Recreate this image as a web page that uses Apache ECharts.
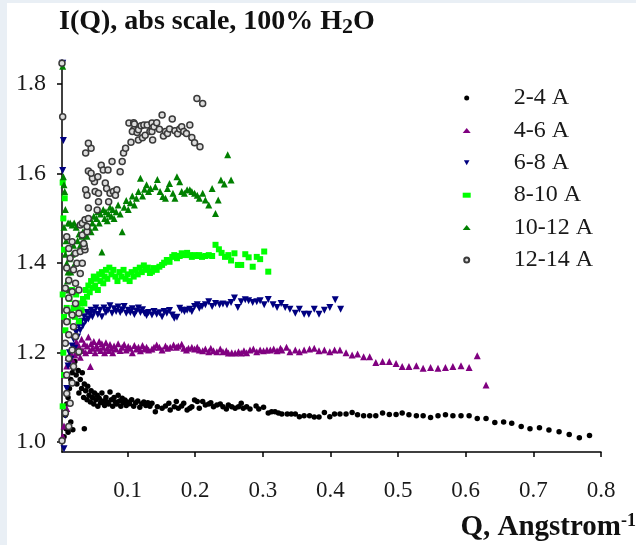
<!DOCTYPE html>
<html>
<head>
<meta charset="utf-8">
<style>
  html, body { margin: 0; padding: 0; background: #fff; }
  #chart { width: 636px; height: 545px; }
</style>
<script src="https://cdn.jsdelivr.net/npm/echarts@6/dist/echarts.min.js"></script>
</head>
<body>
<div id="chart"></div>
<script>
// series names (legend order)
var seriesNames = ['2-4 A', '4-6 A', '6-8 A', '8-10 A', '10-12 A', '12-14 A'];

// [Q, I(Q)]
var pts2to4 = [
  [0.004,1.005],[0.006,1.012],[0.009,1.030],[0.012,1.022],[0.016,1.045],[0.019,1.028],[0.036,1.030],
  [0.008,1.060],[0.010,1.085],[0.012,1.100],[0.014,1.120],[0.016,1.140],[0.018,1.155],[0.020,1.165],
  [0.022,1.180],[0.024,1.150],[0.025,1.130],[0.027,1.160],[0.028,1.110],[0.030,1.140],[0.032,1.120],
  [0.033,1.155],[0.035,1.100],[0.036,1.130],[0.038,1.115],[0.040,1.095],[0.041,1.125],[0.043,1.105],
  [0.045,1.090],[0.046,1.115],[0.048,1.100],[0.050,1.085],[0.051,1.110],[0.053,1.095],[0.055,1.105],
  [0.056,1.080],[0.058,1.098],[0.060,1.088],[0.062,1.110],[0.064,1.092],[0.066,1.082],[0.068,1.100],
  [0.070,1.090],[0.072,1.085],[0.074,1.112],[0.076,1.095],[0.078,1.080],[0.080,1.100],[0.082,1.090],
  [0.084,1.085],[0.086,1.105],[0.088,1.092],[0.090,1.080],[0.092,1.098],[0.094,1.088],[0.096,1.094],
  [0.098,1.082],[0.100,1.090],[0.103,1.086],[0.106,1.095],[0.109,1.080],[0.112,1.088],[0.115,1.092],
  [0.118,1.078],[0.121,1.086],[0.124,1.090],[0.127,1.082],[0.130,1.088],[0.133,1.080],
  [0.136,1.087],[0.141,1.068],[0.144,1.079],[0.151,1.076],[0.156,1.081],[0.161,1.087],[0.163,1.072],
  [0.169,1.079],[0.172,1.091],[0.175,1.076],[0.180,1.081],[0.183,1.087],[0.188,1.072],[0.192,1.076],
  [0.195,1.079],[0.199,1.094],[0.203,1.091],[0.206,1.076],[0.211,1.091],[0.215,1.083],[0.220,1.085],
  [0.223,1.088],[0.227,1.079],[0.232,1.083],[0.237,1.085],[0.241,1.079],[0.246,1.074],[0.249,1.083],
  [0.254,1.079],[0.259,1.076],[0.264,1.079],[0.268,1.087],[0.271,1.076],[0.276,1.079],[0.281,1.074],
  [0.290,1.081],[0.294,1.074],[0.301,1.078],[0.308,1.065],[0.313,1.068],[0.318,1.068],[0.323,1.065],
  [0.328,1.063],[0.336,1.063],[0.342,1.063],[0.348,1.063],[0.354,1.057],[0.361,1.059],[0.369,1.059],
  [0.376,1.056],[0.383,1.056],[0.391,1.066],[0.399,1.057],[0.406,1.063],[0.414,1.063],[0.423,1.063],
  [0.432,1.066],[0.440,1.061],[0.449,1.059],[0.458,1.059],[0.467,1.059],[0.477,1.065],[0.487,1.062],
  [0.497,1.062],[0.506,1.065],[0.516,1.061],[0.527,1.059],[0.537,1.059],[0.548,1.055],[0.559,1.059],
  [0.570,1.061],[0.581,1.059],[0.593,1.059],[0.605,1.059],[0.617,1.053],[0.630,1.053],[0.643,1.044],
  [0.656,1.045],[0.668,1.042],[0.682,1.035],[0.695,1.030],[0.709,1.032],[0.723,1.027],[0.738,1.023],
  [0.753,1.017],[0.768,1.010],[0.783,1.015]
];

var pts4to6 = [
  [0.004,1.013],[0.006,1.036],[0.010,1.075],[0.008,1.150],[0.010,1.170],[0.012,1.190],[0.014,1.175],
  [0.016,1.200],[0.018,1.185],[0.020,1.210],[0.022,1.195],[0.024,1.225],[0.026,1.200],[0.028,1.215],
  [0.030,1.190],[0.032,1.230],[0.034,1.205],[0.036,1.220],[0.038,1.200],[0.040,1.215],[0.042,1.235],
  [0.044,1.205],[0.045,1.169],[0.046,1.220],[0.048,1.210],[0.050,1.225],[0.052,1.200],[0.054,1.215],
  [0.056,1.210],[0.058,1.225],[0.060,1.205],[0.062,1.220],[0.064,1.212],[0.066,1.200],[0.068,1.222],
  [0.070,1.210],[0.072,1.205],[0.074,1.218],[0.076,1.210],[0.078,1.200],[0.080,1.215],[0.083,1.208],
  [0.086,1.220],[0.089,1.205],[0.092,1.212],[0.095,1.218],[0.098,1.206],[0.101,1.214],[0.104,1.210],
  [0.107,1.200],[0.110,1.216],[0.113,1.208],[0.116,1.212],[0.119,1.204],[0.122,1.216],[0.125,1.208],
  [0.128,1.212],[0.131,1.206],
  [0.136,1.208],[0.139,1.212],[0.143,1.217],[0.147,1.212],[0.151,1.206],[0.156,1.215],[0.159,1.210],
  [0.163,1.212],[0.168,1.217],[0.172,1.212],[0.175,1.215],[0.180,1.219],[0.183,1.210],[0.187,1.206],
  [0.190,1.210],[0.195,1.212],[0.199,1.208],[0.203,1.212],[0.206,1.206],[0.211,1.204],[0.215,1.208],
  [0.220,1.202],[0.223,1.210],[0.227,1.204],[0.232,1.202],[0.237,1.208],[0.241,1.202],[0.246,1.204],
  [0.249,1.199],[0.254,1.200],[0.259,1.199],[0.264,1.202],[0.268,1.199],[0.272,1.204],[0.276,1.200],
  [0.281,1.206],[0.286,1.208],[0.291,1.202],[0.296,1.206],[0.301,1.204],[0.306,1.206],[0.311,1.206],
  [0.316,1.208],[0.321,1.204],[0.326,1.210],
  [0.328,1.206],[0.335,1.212],[0.340,1.202],[0.348,1.206],[0.354,1.202],[0.361,1.206],[0.369,1.208],
  [0.376,1.210],[0.383,1.204],[0.391,1.206],[0.399,1.202],[0.406,1.206],[0.414,1.206],[0.423,1.200],
  [0.432,1.195],[0.440,1.197],[0.449,1.191],[0.458,1.191],[0.467,1.178],[0.477,1.180],[0.487,1.180],
  [0.497,1.176],[0.506,1.169],[0.516,1.169],[0.527,1.171],[0.537,1.165],[0.548,1.167],[0.559,1.165],
  [0.570,1.167],[0.581,1.169],[0.593,1.171],[0.605,1.167],[0.617,1.193],[0.630,1.128]
];

var pts6to8 = [
  [0.004,1.847],[0.005,1.674],[0.004,1.607],[0.006,0.985],[0.008,1.060],[0.010,1.120],[0.012,1.170],
  [0.014,1.200],[0.016,1.185],[0.018,1.215],[0.020,1.230],[0.022,1.210],[0.024,1.245],[0.026,1.235],
  [0.028,1.260],[0.030,1.250],[0.032,1.270],[0.034,1.260],[0.036,1.280],[0.038,1.270],[0.040,1.290],
  [0.042,1.275],[0.044,1.285],[0.046,1.295],[0.048,1.280],[0.050,1.290],[0.053,1.300],[0.056,1.285],
  [0.059,1.295],[0.062,1.280],[0.065,1.300],[0.068,1.290],[0.071,1.295],[0.074,1.305],[0.077,1.288],
  [0.080,1.298],[0.083,1.292],[0.086,1.302],[0.089,1.290],[0.092,1.296],[0.095,1.303],[0.098,1.288],
  [0.101,1.295],[0.104,1.290],[0.107,1.298],[0.110,1.285],[0.113,1.293],[0.116,1.300],[0.119,1.290],
  [0.122,1.296],[0.125,1.288],[0.128,1.283],[0.131,1.290],
  [0.136,1.284],[0.139,1.292],[0.143,1.286],[0.147,1.289],[0.151,1.280],[0.154,1.292],[0.158,1.288],
  [0.162,1.294],[0.166,1.284],[0.169,1.277],[0.173,1.279],[0.177,1.299],[0.180,1.295],[0.184,1.292],
  [0.188,1.295],[0.192,1.297],[0.195,1.292],[0.199,1.303],[0.203,1.307],[0.206,1.299],
  [0.210,1.303],[0.215,1.307],[0.220,1.314],[0.225,1.303],[0.230,1.310],[0.236,1.307],[0.241,1.309],
  [0.247,1.307],[0.253,1.312],[0.258,1.322],[0.263,1.301],[0.268,1.314],[0.274,1.318],[0.279,1.316],
  [0.285,1.312],[0.291,1.314],[0.296,1.316],[0.302,1.307],[0.308,1.319],[0.315,1.307],[0.321,1.301],
  [0.327,1.310],[0.333,1.301],[0.340,1.297],[0.348,1.288],[0.354,1.297],[0.361,1.286],[0.368,1.286],
  [0.376,1.297],[0.383,1.286],[0.391,1.295],[0.399,1.301],[0.407,1.318],[0.415,1.297]
];

var pts8to10 = [
  [0.004,1.580],[0.005,1.500],[0.007,1.545],[0.006,1.430],[0.004,1.330],[0.006,1.280],[0.005,1.200],
  [0.006,1.150],[0.004,1.080],[0.008,1.250],[0.010,1.300],[0.012,1.270],[0.014,1.320],[0.016,1.290],
  [0.018,1.340],[0.020,1.300],[0.022,1.280],[0.024,1.330],[0.026,1.300],[0.028,1.270],[0.030,1.310],
  [0.032,1.295],[0.034,1.320],[0.036,1.310],[0.038,1.340],[0.040,1.325],[0.042,1.350],[0.044,1.335],
  [0.046,1.360],[0.048,1.345],[0.050,1.370],[0.052,1.350],[0.054,1.365],[0.056,1.340],[0.058,1.375],
  [0.060,1.360],[0.062,1.380],[0.064,1.355],[0.066,1.370],[0.068,1.385],[0.070,1.365],[0.073,1.390],
  [0.076,1.375],[0.079,1.385],[0.082,1.370],[0.085,1.360],[0.088,1.380],[0.091,1.370],[0.094,1.385],
  [0.097,1.365],[0.100,1.375],[0.103,1.360],[0.106,1.380],[0.109,1.370],[0.112,1.385],[0.115,1.375],
  [0.118,1.390],[0.121,1.380],[0.124,1.395],[0.127,1.385],[0.130,1.390],[0.133,1.378],
  [0.136,1.381],[0.139,1.389],[0.143,1.385],[0.147,1.392],[0.151,1.396],[0.154,1.401],[0.158,1.407],
  [0.162,1.403],[0.166,1.414],[0.169,1.418],[0.173,1.411],[0.177,1.416],[0.180,1.422],[0.184,1.418],
  [0.188,1.423],[0.192,1.418],[0.195,1.414],[0.199,1.418],[0.203,1.416],[0.206,1.418],
  [0.210,1.414],[0.215,1.416],[0.220,1.418],[0.225,1.416],[0.230,1.441],[0.235,1.431],[0.239,1.423],
  [0.244,1.414],[0.249,1.418],[0.253,1.406],[0.258,1.422],[0.263,1.396],[0.268,1.396],[0.274,1.420],
  [0.279,1.413],[0.285,1.392],[0.291,1.414],[0.296,1.409],[0.302,1.426],[0.308,1.381]
];

var pts10to12 = [
  [0.004,1.840],[0.005,1.593],[0.006,1.575],[0.007,1.560],[0.008,1.520],[0.006,1.480],[0.009,1.450],
  [0.008,1.420],[0.010,1.400],[0.012,1.380],[0.011,1.360],[0.014,1.410],[0.013,1.340],[0.016,1.380],
  [0.018,1.420],[0.020,1.440],[0.022,1.400],[0.012,1.490],[0.015,1.490],[0.018,1.485],[0.021,1.490],
  [0.024,1.480],[0.026,1.450],[0.028,1.465],[0.030,1.440],[0.032,1.460],[0.034,1.470],[0.036,1.450],
  [0.038,1.475],[0.040,1.460],[0.042,1.480],[0.044,1.500],[0.046,1.470],[0.048,1.490],[0.050,1.505],
  [0.052,1.480],[0.054,1.500],[0.056,1.515],[0.058,1.490],[0.060,1.510],[0.062,1.425],[0.064,1.520],
  [0.066,1.500],[0.068,1.515],[0.070,1.495],[0.072,1.510],[0.074,1.525],[0.076,1.505],[0.078,1.520],
  [0.080,1.500],[0.083,1.515],[0.086,1.530],[0.089,1.510],[0.092,1.470],[0.095,1.525],[0.098,1.540],
  [0.101,1.520],[0.104,1.535],[0.107,1.550],[0.110,1.530],[0.113,1.545],[0.116,1.560],[0.119,1.590],
  [0.122,1.550],[0.125,1.565],[0.128,1.575],[0.131,1.560],
  [0.134,1.567],[0.141,1.571],[0.144,1.587],[0.148,1.560],[0.152,1.549],[0.156,1.545],[0.159,1.567],
  [0.162,1.578],[0.167,1.556],[0.170,1.545],[0.173,1.593],[0.177,1.582],[0.180,1.560],[0.184,1.556],
  [0.188,1.564],[0.192,1.564],[0.195,1.560],[0.199,1.556],[0.203,1.552],[0.206,1.545],[0.211,1.556],
  [0.215,1.541],[0.220,1.530],[0.225,1.567],[0.230,1.511],[0.234,1.541],[0.238,1.586],[0.243,1.577],
  [0.248,1.642],[0.253,1.586]
];

var pts12to14 = [
  [0.003,1.003],[0.013,1.035],[0.008,1.065],[0.015,1.087],[0.010,1.109],[0.018,1.132],[0.010,1.150],
  [0.020,1.169],[0.013,1.187],[0.008,1.221],[0.018,1.206],[0.028,1.202],[0.013,1.240],[0.023,1.236],
  [0.010,1.269],[0.020,1.258],[0.010,1.295],[0.018,1.284],[0.028,1.288],[0.013,1.322],[0.023,1.310],
  [0.008,1.344],[0.018,1.336],[0.028,1.340],[0.013,1.362],[0.023,1.355],[0.010,1.389],[0.020,1.385],
  [0.030,1.377],[0.015,1.411],[0.025,1.400],[0.023,1.422],[0.030,1.426],[0.013,1.433],[0.018,1.448],
  [0.010,1.459],[0.033,1.400],[0.037,1.430],[0.036,1.437],[0.035,1.444],[0.033,1.463],[0.040,1.470],
  [0.030,1.485],[0.033,1.489],[0.037,1.497],[0.042,1.523],[0.040,1.482],[0.042,1.500],[0.055,1.519],
  [0.057,1.537],[0.072,1.537],[0.038,1.564],[0.040,1.552],[0.052,1.560],[0.057,1.556],[0.067,1.579],
  [0.069,1.567],[0.074,1.556],[0.079,1.560],[0.084,1.564],[0.082,1.552],[0.051,1.582],[0.048,1.590],
  [0.056,1.593],[0.042,1.606],[0.046,1.601],[0.061,1.619],[0.064,1.608],[0.071,1.608],[0.077,1.627],
  [0.089,1.604],[0.092,1.627],[0.094,1.646],[0.097,1.657],[0.038,1.646],[0.046,1.657],[0.042,1.668],
  [0.003,1.847],[0.004,1.727],
  [0.102,1.713],[0.109,1.714],[0.110,1.711],[0.109,1.698],[0.107,1.694],[0.114,1.692],[0.116,1.698],
  [0.105,1.670],[0.116,1.675],[0.122,1.680],[0.120,1.707],[0.124,1.709],[0.129,1.709],[0.126,1.686],
  [0.133,1.694],[0.136,1.713],[0.136,1.694],[0.137,1.675],[0.139,1.705],[0.143,1.714],[0.147,1.699],
  [0.151,1.731],[0.153,1.684],[0.156,1.694],[0.159,1.690],[0.162,1.700],[0.166,1.722],[0.170,1.696],
  [0.174,1.689],[0.177,1.700],[0.180,1.705],[0.183,1.694],[0.187,1.690],[0.192,1.709],[0.195,1.681],
  [0.199,1.669],[0.2025,1.768],[0.207,1.660],[0.211,1.757]
];

// tick labels
var xTicks = [0.1, 0.2, 0.3, 0.4, 0.5, 0.6, 0.7, 0.8];
var yTicks = [1.0, 1.2, 1.4, 1.6, 1.8];

(function() {
  var serif = 'Liberation Serif';
  var ink = '#1a1a1a';
  var downTri = 'path://M0,0 L10,0 L5,9 Z';
  var chart = echarts.init(document.getElementById('chart'), null, { renderer: 'canvas' });

  var styles = [
    { symbol: 'circle', size: 5.5, color: '#000000' },
    { symbol: 'triangle', size: 7, color: '#800080' },
    { symbol: downTri, size: 7, color: '#000080' },
    { symbol: 'rect', size: 6, color: '#00ff00' },
    { symbol: 'triangle', size: 7, color: '#008000' },
    { symbol: 'circle', size: 6, color: '#dddddd', border: '#3a3a3a' }
  ];
  var allPts = [pts2to4, pts4to6, pts6to8, pts8to10, pts10to12, pts12to14];

  var series = allPts.map(function(pts, i) {
    var st = styles[i];
    return {
      name: seriesNames[i],
      type: 'scatter',
      data: pts,
      symbol: st.symbol,
      symbolSize: st.size,
      itemStyle: st.border
        ? { color: st.color, borderColor: st.border, borderWidth: 1.5, opacity: 1 }
        : { color: st.color, opacity: 1 },
      emphasis: { disabled: true }
    };
  });

  chart.setOption({
    animation: false,
    backgroundColor: '#ffffff',
    title: [
      {
        text: '{a|I(Q), abs scale, 100% H}{sub|2}{a|O}',
        left: 59, top: 6, padding: 0,
        textStyle: {
          rich: {
            a: { fontFamily: serif, fontSize: 28, fontWeight: 'bold', color: '#111', lineHeight: 32 },
            sub: { fontFamily: serif, fontSize: 22, fontWeight: 'bold', color: '#111', lineHeight: 22, verticalAlign: 'bottom' }
          }
        }
      },
      {
        text: '{a|Q, Angstrom}{sup|-1}',
        right: 0, top: 512, padding: 0,
        textStyle: {
          rich: {
            a: { fontFamily: serif, fontSize: 29, fontWeight: 'bold', color: '#111', lineHeight: 32 },
            sup: { fontFamily: serif, fontSize: 18, fontWeight: 'bold', color: '#111', lineHeight: 18, verticalAlign: 'top' }
          }
        }
      }
    ],
    graphic: [
      { type: 'rect', shape: { x: 0, y: 0, width: 7, height: 545 }, style: { fill: '#e9eff5' }, silent: true },
      { type: 'rect', shape: { x: 0, y: 0, width: 636, height: 3 }, style: { fill: '#e9eff5' }, silent: true }
    ],
    legend: {
      orient: 'vertical',
      left: 462.7, top: 86,
      itemWidth: 8, itemHeight: 5, itemGap: 8.4,
      padding: 0,
      selectedMode: false,
      data: seriesNames,
      textStyle: { fontFamily: serif, fontSize: 24, color: ink, padding: [0, 0, 0, 38] }
    },
    grid: { left: 62, right: 35, top: 60, bottom: 93 },
    xAxis: {
      type: 'value',
      min: 0.003, max: 0.8,
      axisLine: { show: true, onZero: false, lineStyle: { color: '#000', width: 1.5 } },
      axisTick: { show: true, length: 5, customValues: xTicks, lineStyle: { color: '#000', width: 1.5 } },
      axisLabel: {
        customValues: xTicks, margin: 27,
        fontFamily: serif, fontSize: 23, color: ink,
        formatter: function(v) { return v.toFixed(1); }
      },
      splitLine: { show: false }
    },
    yAxis: {
      type: 'value',
      min: 0.978, max: 1.854,
      axisLine: { show: true, onZero: false, lineStyle: { color: '#000', width: 1.5 } },
      axisTick: { show: true, length: 5, customValues: yTicks, lineStyle: { color: '#000', width: 1.5 } },
      axisLabel: {
        customValues: yTicks, margin: 16,
        fontFamily: serif, fontSize: 24, color: ink,
        formatter: function(v) { return v.toFixed(1); }
      },
      splitLine: { show: false }
    },
    series: series
  });
  window.addEventListener('resize', function() { chart.resize(); });
})();
</script>
</body>
</html>
